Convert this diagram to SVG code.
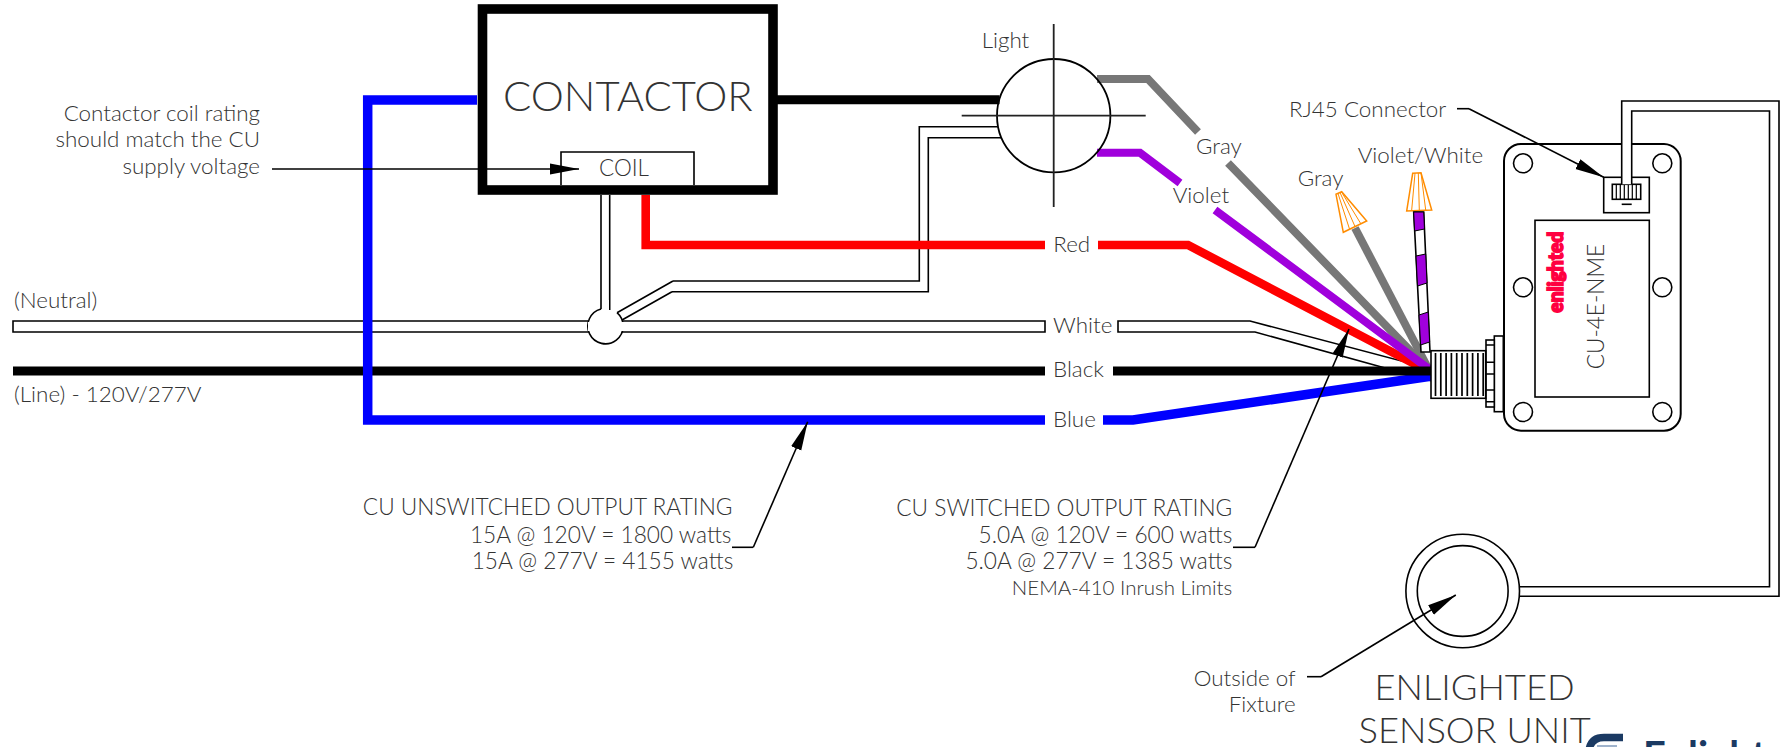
<svg xmlns="http://www.w3.org/2000/svg" width="1781" height="747" viewBox="0 0 1781 747">
<style>
text{font-family:Lato,"Liberation Sans",sans-serif;font-weight:300;fill:#333;font-size:22.4px}
.e{text-anchor:end}
.cu{font-size:22.7px}
.w{fill:none;stroke-linejoin:miter}
.bk{stroke:#000;stroke-width:9}
.bl{stroke:#00f;stroke-width:9.5}
.rd{stroke:#f00;stroke-width:8.6}
.gy{stroke:#777;stroke-width:8}
.vi{stroke:#a000dc;stroke-width:8}
.t{fill:#fff;stroke:#000;stroke-width:1.6}
.l{fill:none;stroke:#000;stroke-width:1.6}
.lead{fill:none;stroke:#000;stroke-width:1.6;marker-end:url(#ah)}
.nut{fill:#fff;stroke:#ff8c00;stroke-width:1.5}
.nl{fill:none;stroke:#ff8c00;stroke-width:1}
.f{fill:#fff;stroke:#000;stroke-width:1.6}
</style>
<defs>
<marker id="ah" markerUnits="userSpaceOnUse" markerWidth="30" markerHeight="12" refX="29" refY="6" orient="auto"><path d="M0,0.5L29,6L0,11.5z" fill="#000"/></marker>
</defs>
<rect width="1781" height="747" fill="#fff"/>
<g id="connectors">
<path class="t" d="M13,321H1045V332H13z"/>
<path class="t" d="M1118,321H1250L1432,369L1432,381L1255,332H1118z"/>
<path class="l" d="M673,281H919.3V126.7H998M672,291.7H928.3V137.7H1001.4"/>
<path class="l" d="M617,312.7L673,281M622,320L672,291.7"/>
<path class="l" d="M601,195V310M609.7,195V310"/>
<path class="w gy" d="M1097,79H1148L1198,132M1228,163L1429,370"/>
<path class="w gy" d="M1355,228L1428,368"/>
<path class="w rd" d="M645.7,195V245H1045M1098,245H1188L1428,371"/>
<path class="w vi" d="M1097,152.7H1140L1180,183M1215,210L1433,372"/>
<path class="w bl" d="M1103,420H1133L1432,376"/>
<path class="w bk" d="M13,371H1045M1113,371H1431"/>
<path class="w bl" d="M477,100H367.7V420H1045"/>
<path class="w bk" d="M777,99.7H999.5"/>
</g>
<g id="contactor">
<rect x="482.5" y="9" width="290.5" height="181" fill="none" stroke="#000" stroke-width="9.6"/>
<text x="503" y="111" style="font-size:41.8px">CONTACTOR</text>
<path class="l" d="M561,185V152H694V185"/>
<text x="624" y="176" text-anchor="middle" style="font-size:22.5px">COIL</text>
</g>
<g id="junction"><path fill="#fff" stroke="#000" stroke-width="1.6" d="M601,309A17.7,17.7 0 1 0 617,312.7"/><path fill="#fff" d="M588,322H625V331H588zM602,300H609V312H602z"/></g>
<g id="light">
<circle cx="1053.7" cy="115.7" r="56.7" fill="none" stroke="#000" stroke-width="1.8"/>
<path d="M1053.7,24V207M961.7,115.7H1145.7" fill="none" stroke="#222" stroke-width="1.8"/>
<text x="981.7" y="48.3">Light</text>
</g>
<g id="wire-labels">
<text x="1196" y="154">Gray</text>
<text x="1172.7" y="203.3">Violet</text>
<text x="1053.3" y="251.7">Red</text>
<text x="1053" y="333.3">White</text>
<text x="1053" y="377">Black</text>
<text x="1053" y="426.7">Blue</text>
<text x="14" y="308">(Neutral)</text>
<text x="14" y="401.7">(Line) - 120V/277V</text>
<text class="e" x="260" y="121">Contactor coil rating</text>
<text class="e" x="260" y="147.3">should match the CU</text>
<text class="e" x="260" y="174.3">supply voltage</text>
<text class="e cu" x="732.5" y="515">CU UNSWITCHED OUTPUT RATING</text>
<text class="e cu" x="731.5" y="542.7">15A @ 120V = 1800 watts</text>
<text class="e cu" x="733.3" y="569">15A @ 277V = 4155 watts</text>
<text class="e cu" x="1232.3" y="516">CU SWITCHED OUTPUT RATING</text>
<text class="e cu" x="1232.3" y="542.7">5.0A @ 120V = 600 watts</text>
<text class="e cu" x="1232.3" y="569">5.0A @ 277V = 1385 watts</text>
<text class="e" x="1232.3" y="595" style="font-size:20.5px">NEMA-410 Inrush Limits</text>
<text x="1289" y="116.7">RJ45 Connector</text>
<text x="1357.7" y="162.7">Violet/White</text>
<text x="1297.7" y="185.7">Gray</text>
<text class="e" x="1295.7" y="685.7">Outside of</text>
<text class="e" x="1295.7" y="711.7">Fixture</text>
</g>
<g id="pigtails">
<polygon class="nut" points="1336,194.3 1341.7,191.7 1366.7,221 1343.3,232.3"/>
<path class="nl" d="M1338,193.5L1349.5,229M1340,192.5L1355,226.5M1341.5,192L1361,224"/>
<polygon class="nut" points="1412.7,173.3 1421,172.7 1431.7,210 1406.7,211"/>
<path class="nl" d="M1415,173.3L1411.7,210M1418.3,173L1419.3,210M1421,173L1425.7,210"/>
<polygon points="1413.7,212 1423.7,212 1430,352 1421,352" fill="#fff" stroke="#000" stroke-width="1.6"/>
<path fill="#a000dc" stroke="#000" stroke-width="1" d="M1413.7,212H1423.7L1424.5,229L1414.6,231zM1416,256L1425.7,254L1427,283L1417.5,286zM1419,315L1428.2,312L1429.6,342L1420.6,345z"/>
</g>
<g id="cu">
<path class="l" style="stroke-width:2" d="M1521,144H1664A17,17 0 0 1 1680.7,161V414A17,17 0 0 1 1664,430.7H1521A17,17 0 0 1 1504,414V161A17,17 0 0 1 1521,144z"/>
<circle cx="1523" cy="163.3" r="9.5" class="f"/><circle cx="1662.3" cy="163.3" r="9.5" class="f"/>
<circle cx="1523" cy="287.3" r="9.5" class="f"/><circle cx="1662.3" cy="287.3" r="9.5" class="f"/>
<circle cx="1523" cy="412" r="9.5" class="f"/><circle cx="1662.3" cy="412" r="9.5" class="f"/>
<rect class="f" x="1535" y="220.3" width="114.3" height="176.7"/>
<text transform="translate(1562.7,312.7) rotate(-90)" textLength="81" lengthAdjust="spacingAndGlyphs" style="font-size:20px;font-weight:900;fill:#ff0040;stroke:#ff0040;stroke-width:1.6">enlighted</text>
<text transform="translate(1604.3,369.3) rotate(-90)" style="font-size:22.6px">CU-4E-NME</text>
<rect class="f" x="1494.3" y="336" width="9" height="75.7"/>
<rect class="f" x="1486" y="340" width="8.3" height="67"/>
<path class="l" d="M1486,345H1494.3M1486,362.3H1494.3M1486,374H1494.3M1486,390H1494.3M1486,401.7H1494.3"/>
<rect class="f" x="1431" y="350.7" width="54.7" height="47.6"/>
<path fill="none" stroke="#000" stroke-width="1.7" d="M1435.5,353V396M1440.8,353V396M1446.1,353V396M1451.4,353V396M1456.7,353V396M1462,353V396M1467.3,353V396M1472.6,353V396M1477.9,353V396M1483.2,353V396"/>
<rect class="f" x="1603.7" y="177.3" width="45.6" height="35.4"/>
<rect class="f" x="1612.3" y="184.3" width="28.4" height="15"/>
<path fill="none" stroke="#000" stroke-width="1.2" d="M1616.3,184.3V199.3M1620.3,184.3V199.3M1624.3,184.3V199.3M1628.3,184.3V199.3M1632.3,184.3V199.3M1636.3,184.3V199.3"/>
<path class="l" d="M1621.7,204.3H1631.7"/>
</g>
<g id="sensor">
<path fill="#fff" d="M1621.7,184.3V101H1779V596.3H1519.4V586.7H1769.5V111H1631.7V184.3z"/>
<path class="l" d="M1621.7,184.3V101H1779V596.3H1519.4M1519.4,586.7H1769.5V111H1631.7V184.3"/>
<circle cx="1462.7" cy="591" r="56.8" fill="none" stroke="#000" stroke-width="1.6"/>
<circle cx="1462.7" cy="591" r="45.4" fill="none" stroke="#000" stroke-width="1.6"/>
<text x="1374.5" y="700" style="font-size:36.3px">ENLIGHTED</text>
<text x="1358.5" y="742.7" style="font-size:36.3px">SENSOR UNIT</text>
</g>
<g id="logo">
<path d="M1589,750Q1591,737.5 1604,737.5H1623" fill="none" stroke="#1b3a63" stroke-width="7.4"/>
<rect x="1597" y="745" width="20" height="2" fill="#9fb3cc"/>
<text x="1643" y="770" style="font-size:40px;font-weight:700;fill:#1b3a63">Enlighted</text>
</g>
<g id="leaders">
<path class="lead" d="M272,169H579"/>
<path class="l" d="M732,547.3H753.3"/><path class="lead" d="M753.3,547.3L807.7,421.7"/>
<path class="l" d="M1233,547.3H1255"/><path class="lead" d="M1255,547.3L1349,329"/>
<path class="l" d="M1457,108.7H1469"/><path class="lead" d="M1469,108.7L1603.7,177.3"/>
<path class="l" d="M1307,676.7H1321"/><path class="lead" d="M1321,676.7L1455.8,595"/>
</g>
</svg>
